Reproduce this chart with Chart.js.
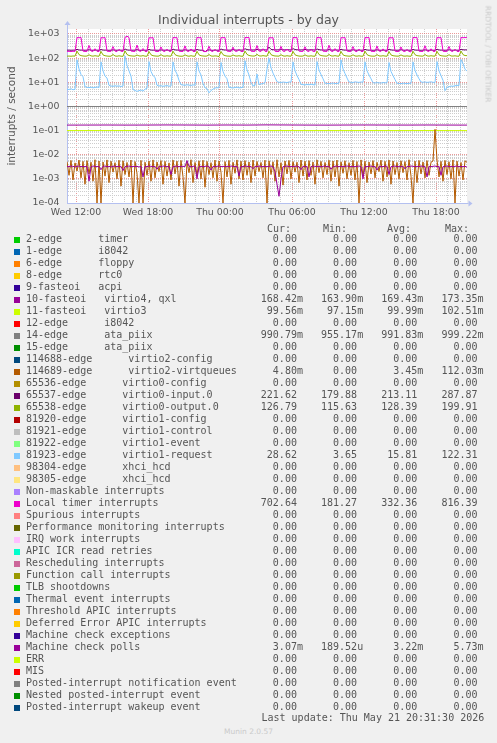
<!DOCTYPE html>
<html><head><meta charset="utf-8">
<script src="https://cdn.jsdelivr.net/npm/chart.js@4/dist/chart.umd.min.js"></script>
<style>
html,body{margin:0;padding:0;background:#f0f0f0;}
body{width:497px;height:743px;position:relative;overflow:hidden;}
#chart{position:absolute;left:0;top:0;}
.t{position:absolute;font-family:'DejaVu Sans Mono',monospace;font-size:10px;line-height:12px;white-space:pre;color:#555;}
.sw{position:absolute;width:6px;height:6px;}
#wm{position:absolute;left:487.5px;top:53.5px;transform:translate(-50%,-50%) rotate(90deg);font-family:'DejaVu Sans';font-size:7.5px;color:#cacaca;white-space:nowrap;}
#footer{position:absolute;left:0;width:497px;top:726px;text-align:center;font-family:'DejaVu Sans';font-size:7.5px;line-height:12px;color:#cacaca;}
</style></head><body>
<canvas id="chart" width="497" height="230"></canvas>
<div id="legend"></div>
<div id="wm">RRDTOOL / TOBI OETIKER</div>
<div id="footer">Munin 2.0.57</div>
<script>
// ---------- time axis (hours counted from Wed 00:00) ----------
const T_START = 11.25;          // Wed 11:15
const T_END = 44 + 35 / 60;     // Thu 20:35
const X_GRID_HOURS = [12,13,14,15,16,17,18,19,20,21,22,23,24,25,26,27,28,29,30,31,32,33,34,35,36,37,38,39,40,41,42,43,44];
const X_LABEL_HOURS = [12, 18, 24, 30, 36, 42];
const X_LABELS = ['Wed 12:00', 'Wed 18:00', 'Thu 00:00', 'Thu 06:00', 'Thu 12:00', 'Thu 18:00'];

// ---------- value axis ----------
const Y_MIN = 1e-4;
const Y_MAX = 1611;
const Y_DECADES = [1e-4, 1e-3, 1e-2, 1e-1, 1e0, 1e1, 1e2, 1e3];
const Y_LABELS = ['1e-04', '1e-03', '1e-02', '1e-01', '1e+00', '1e+01', '1e+02', '1e+03'];
const Y_MINOR_MULT = [2, 3, 4, 5, 6, 7, 8, 9];

// ---------- series (10-minute samples, Wed 11:15 .. Thu 20:35) ----------
const LOCAL_TIMER = [190,192,188,193,190,
712,698,720,196,189,191,335,198,190,245,191,188,
705,690,715,194,190,192,300,196,188,230,193,190,
725,816.39,710,197,191,190,345,199,192,250,190,189,
700,688,712,195,188,192,290,197,190,235,192,191,
715,702,708,196,190,189,320,195,191,240,190,188,
722,695,718,193,189,193,310,198,189,232,191,190,
708,700,714,197,191,190,285,196,192,228,190,187,
718,705,720,195,190,192,330,197,190,245,192,189,
702,692,710,194,188,190,305,195,191,238,190,188,
716,703,712,196,190,191,295,198,189,230,191,190,
724,698,716,195,191,190,340,196,190,248,192,189,
706,694,713,197,189,192,300,195,188,236,190,188,
712,700,718,193,190,190,315,197,191,242,191,190,
703,690,709,196,188,191,290,196,189,228,190,181.27,
720,706,715,195,190,190,325,198,190,244,192,189,
710,697,711,194,189,192,305,196,191,234,190,188,
715,700,712,702.64];

const VIRTIO0_INPUT = [214,216,213,215,214,
232,218,216,214,213,215,222,214,213,216,214,213,
228,217,215,214,212,214,220,215,213,217,214,212,
240,219,216,213,214,215,224,214,212,215,213,214,
230,216,215,214,213,212,219,215,214,216,213,212,
236,220,217,215,213,214,221,214,213,218,215,213,
229,217,214,213,179.88,214,220,213,212,216,214,213,
238,222,218,216,215,216,226,217,215,219,216,215,
245,226,221,219,218,220,232,221,219,224,220,218,
287.87,230,224,221,220,222,235,222,220,226,221,219,
248,228,222,220,219,221,230,221,219,224,220,218,
240,224,219,217,216,218,226,218,216,220,217,215,
233,219,216,214,213,215,222,215,213,217,214,213,
231,218,215,214,212,214,221,214,213,216,214,212,
235,219,216,214,213,215,223,215,213,217,214,213,
230,217,215,213,212,214,220,214,212,216,213,212,
234,219,216,214,213,215,222,215,213,217,214,213,
232,222,220,221.62];

const VIRTIO0_OUTPUT = [121,122,120,123,121,
195,140,127,123,121,122,138,124,121,126,122,120,
190,136,126,122,120,121,142,123,120,125,121,119,
199.91,142,128,124,122,121,135,124,122,127,121,120,
188,138,126,123,121,122,140,123,121,125,122,121,
194,141,127,122,120,121,137,124,120,126,121,120,
192,137,126,123,121,122,141,123,121,124,122,115.63,
189,139,127,122,121,120,136,124,122,126,121,120,
196,143,129,124,122,123,144,125,122,127,123,121,
193,140,128,123,122,121,139,124,121,126,122,121,
191,138,127,122,121,122,137,123,121,125,121,120,
195,141,128,124,122,121,142,124,122,127,122,121,
190,137,126,123,121,122,138,123,121,125,121,120,
194,140,127,122,121,121,140,124,122,126,122,120,
188,136,126,123,121,122,136,123,121,124,121,120,
193,139,127,124,122,121,141,124,121,126,122,121,
191,138,126,123,121,122,139,123,122,125,121,120,
196,140,128,126.79];

const VIRTIO1_REQUEST = [5.2,5.0,5.4,4.9,5.1,
85,36,21,17,6.5,6.2,6.0,6.3,5.9,6.1,6.4,6.0,
70,30,18,15,7.5,7.0,6.8,7.2,6.9,7.1,6.7,7.0,
122.31,50,30,18,5.0,4.6,4.2,4.5,4.8,4.3,5.2,5.6,
72,28,19,16,7.5,7.0,7.2,6.8,7.1,7.3,6.9,7.0,
70,32,22,12,8.0,7.7,7.5,7.9,7.6,7.4,7.8,7.6,
70,30,20,9,6.0,5.5,3.65,4.6,5.2,5.8,6.0,5.9,
66,28,18,14,6.2,6.0,5.8,6.1,6.3,5.9,6.0,6.2,
78,33,20,10,7.0,7.5,22,8.0,8.5,9.0,9.5,35,
100,40,24,16,10.5,10,9.8,10.2,10.0,9.7,10.3,10.1,
70,30,19,13,8.2,8.0,7.8,8.1,7.9,8.3,8.0,7.7,
72,32,21,14,9.2,9.0,8.8,9.1,9.3,8.9,9.0,9.2,
85,36,23,15,10.2,10.0,9.8,10.4,10.1,9.9,10.3,10.0,
70,30,20,14,9.6,9.4,9.7,9.5,9.3,9.8,9.5,9.6,
66,28,19,13,9.1,9.0,8.8,9.2,9.0,8.9,9.1,9.0,
70,31,20,14,10.2,10.0,10.3,9.9,10.1,10.4,10.0,9.8,
72,30,19,12,4.5,6.2,6.5,7.0,6.8,7.2,7.5,7.3,
88,60,35,28.62];

// values in milli-interrupts/s (Munin "m" suffix)
const VIRTIO2_VIRTQUEUES_M = [5.2,1.4,5.8,0.9,4.6,2.1,6.0,1.1,5.3,0.6,
5.7,1.6,4.9,0.8,6.2,0,5.5,0,5.0,1.3,
6.1,0.7,5.4,1.9,4.7,1.0,5.9,0.5,5.6,1.5,
4.8,1.2,6.0,0,5.2,1.7,0,5.8,0,4.9,
1.4,5.5,0.8,6.1,1.1,5.0,2.0,5.7,0.6,5.3,
1.3,4.6,0.9,6.0,1.6,5.4,0.5,5.8,1.2,0,
5.1,1.8,6.2,0.7,4.8,1.4,5.6,1.0,5.9,0.45,
5.3,1.5,4.7,1.1,6.0,0.8,5.5,1.9,0,5.2,
1.2,5.8,0.6,4.9,1.7,6.1,1.0,5.4,0.9,5.7,
1.4,5.0,0.7,6.0,1.3,5.3,2.0,4.8,1.1,5.9,
0,5.6,1.5,5.1,0.8,6.2,1.2,4.7,0.55,5.5,
1.6,5.8,1.0,5.2,1.9,4.9,0.7,6.0,1.3,5.4,
0.9,5.7,1.4,5.0,0.6,6.1,1.8,5.3,1.1,4.8,
1.5,5.9,0.8,5.5,1.2,6.0,0.5,5.1,1.7,5.6,
1.0,4.7,1.4,5.8,0.9,5.2,0,6.1,1.3,5.4,
0.7,5.0,1.6,5.7,1.1,4.9,2.0,5.9,0.8,5.3,
1.2,6.0,0.6,5.5,1.5,4.8,1.0,5.6,1.8,5.2,
0.9,6.2,1.3,0,5.4,0.7,5.8,1.6,5.0,1.1,
5.7,1.4,4.9,5.5,112.03,6.0,1.2,5.3,0.8,5.8,
1.5,5.1,1.0,6.1,0,5.4,1.3,4.8,0.9,5.6,
4.80];

const MACHINE_CHECK_POLLS_M = [3.3,3.2,3.4,3.3,3.1,3.3,3.4,3.2,3.3,3.2,
3.3,0.8,3.2,3.4,3.3,3.2,3.3,2.4,3.3,3.4,
3.2,3.3,3.1,3.3,3.4,3.2,3.3,3.3,2.2,3.2,
3.3,3.4,3.2,3.3,3.2,3.3,3.1,3.3,1.2,3.3,
3.2,3.4,3.3,3.2,3.3,2.5,3.3,3.2,3.4,3.3,
3.2,3.3,1.5,3.2,3.3,3.4,3.2,3.3,3.3,3.2,
5.73,3.3,3.2,3.3,3.4,1.0,3.2,3.3,3.2,3.3,
3.4,3.2,2.3,3.3,3.2,3.3,3.4,3.2,3.3,3.2,
3.3,3.2,3.4,3.3,3.2,3.3,1.3,3.3,3.2,3.4,
3.3,3.2,3.3,2.6,3.3,3.2,3.4,3.3,3.2,3.3,
3.2,3.3,3.4,3.2,2.0,0.6,0.18952,1.0,3.2,3.3,
3.4,3.2,3.3,3.2,3.3,3.4,3.2,2.4,3.3,3.2,
3.3,1.2,3.2,3.4,3.3,3.2,3.3,3.2,3.3,3.4,
3.2,3.3,2.5,3.2,3.3,3.4,3.2,3.3,3.2,3.3,
3.4,3.3,3.2,3.3,3.2,3.3,3.4,3.2,1.0,3.3,
3.2,3.3,3.4,3.2,3.3,2.3,3.2,3.3,3.2,3.4,
3.3,1.5,3.2,3.3,3.4,3.2,3.3,3.2,3.3,2.6,
3.3,3.2,3.4,3.3,3.2,3.3,3.2,3.4,3.3,3.2,
1.2,3.3,3.2,3.3,3.4,3.2,3.3,1.4,3.2,3.3,
3.4,3.2,3.3,3.2,3.3,3.4,3.2,3.3,3.2,3.3,
3.07];

// near-constant series (100-minute samples), milli-interrupts/s
const FASTEOI10_M = [168.5,169.2,170.1,168.8,169.6,171.0,169.9,168.4,170.3,169.1,172.0,170.5,169.0,168.2,169.8,170.6,169.4,168.9,170.2,169.3,168.42];
const FASTEOI11_M = [99.9,100.1,99.8,100.2,99.9,100.0,100.3,99.7,100.1,99.9,100.0,100.2,99.8,100.0,99.9,100.1,100.0,99.8,100.1,99.9,99.56];
const EDGE14_M = [992,995,990,993,996,989,991,994,992,990,993,995,991,989,992,994,990,993,991,992,990.79];

// ---------- legend table ----------
const LEGEND_LABELS = [
'2-edge      timer','1-edge      i8042','6-edge      floppy','8-edge      rtc0','9-fasteoi   acpi',
'10-fasteoi   virtio4, qxl','11-fasteoi   virtio3','12-edge      i8042','14-edge      ata_piix','15-edge      ata_piix',
'114688-edge      virtio2-config','114689-edge      virtio2-virtqueues','65536-edge      virtio0-config','65537-edge      virtio0-input.0','65538-edge      virtio0-output.0',
'81920-edge      virtio1-config','81921-edge      virtio1-control','81922-edge      virtio1-event','81923-edge      virtio1-request','98304-edge      xhci_hcd',
'98305-edge      xhci_hcd','Non-maskable interrupts','Local timer interrupts','Spurious interrupts','Performance monitoring interrupts',
'IRQ work interrupts','APIC ICR read retries','Rescheduling interrupts','Function call interrupts','TLB shootdowns',
'Thermal event interrupts','Threshold APIC interrupts','Deferred Error APIC interrupts','Machine check exceptions','Machine check polls',
'ERR','MIS','Posted-interrupt notification event','Nested posted-interrupt event','Posted-interrupt wakeup event'];
const LEGEND_COLORS = [
'#00CC00','#0066B3','#FF8000','#FFCC00','#330099','#990099','#CCFF00','#FF0000','#808080','#008F00',
'#00487D','#B35A00','#B38F00','#6B006B','#8FB300','#B30000','#BEBEBE','#80FF80','#80C9FF','#FFC080',
'#FFE680','#AA80FF','#EE00CC','#FF8080','#666600','#FFBFFF','#00FFCC','#CC6699','#999900','#00CC00',
'#0066B3','#FF8000','#FFCC00','#330099','#990099','#CCFF00','#FF0000','#808080','#008F00','#00487D'];
const Z = '0.00';
const CUR = [Z,Z,Z,Z,Z,'168.42m','99.56m',Z,'990.79m',Z, Z,'4.80m',Z,'221.62','126.79',Z,Z,Z,'28.62',Z, Z,Z,'702.64',Z,Z,Z,Z,Z,Z,Z, Z,Z,Z,Z,'3.07m',Z,Z,Z,Z,Z];
const MIN = [Z,Z,Z,Z,Z,'163.90m','97.15m',Z,'955.17m',Z, Z,Z,Z,'179.88','115.63',Z,Z,Z,'3.65',Z, Z,Z,'181.27',Z,Z,Z,Z,Z,Z,Z, Z,Z,Z,Z,'189.52u',Z,Z,Z,Z,Z];
const AVG = [Z,Z,Z,Z,Z,'169.43m','99.99m',Z,'991.83m',Z, Z,'3.45m',Z,'213.11','128.39',Z,Z,Z,'15.81',Z, Z,Z,'332.36',Z,Z,Z,Z,Z,Z,Z, Z,Z,Z,Z,'3.22m',Z,Z,Z,Z,Z];
const MAX = [Z,Z,Z,Z,Z,'173.35m','102.51m',Z,'999.22m',Z, Z,'112.03m',Z,'287.87','199.91',Z,Z,Z,'122.31',Z, Z,Z,'816.39',Z,Z,Z,Z,Z,Z,Z, Z,Z,Z,Z,'5.73m',Z,Z,Z,Z,Z];
const COL_HEADERS = ['Cur:', 'Min:', 'Avg:', 'Max:'];
const LAST_UPDATE = 'Last update: Thu May 21 20:31:30 2026';

// ---------- styles ----------
const FONT_COLOR = '#555555';
const AXIS_COLOR = '#b4c0f0';
const MAJOR_GRID = 'rgba(225,110,110,0.7)';
const MINOR_GRID = '#cdcdcd';

function toPoints(arr, scale) {
  const n = arr.length - 1;
  return arr.map((v, i) => ({ x: T_START + i * (T_END - T_START) / n, y: Math.max(v * scale, Y_MIN) }));
}
const SERIES = [
  { label: '10-fasteoi virtio4, qxl', values: FASTEOI10_M, scale: 1e-3, color: '#990099' },
  { label: '11-fasteoi virtio3', values: FASTEOI11_M, scale: 1e-3, color: '#CCFF00' },
  { label: '14-edge ata_piix', values: EDGE14_M, scale: 1e-3, color: '#808080' },
  { label: '114689-edge virtio2-virtqueues', values: VIRTIO2_VIRTQUEUES_M, scale: 1e-3, color: '#B35A00' },
  { label: '65537-edge virtio0-input.0', values: VIRTIO0_INPUT, scale: 1, color: '#6B006B' },
  { label: '65538-edge virtio0-output.0', values: VIRTIO0_OUTPUT, scale: 1, color: '#8FB300' },
  { label: '81923-edge virtio1-request', values: VIRTIO1_REQUEST, scale: 1, color: '#80C9FF' },
  { label: 'Local timer interrupts', values: LOCAL_TIMER, scale: 1, color: '#EE00CC' },
  { label: 'Machine check polls', values: MACHINE_CHECK_POLLS_M, scale: 1e-3, color: '#990099' }
];

const yTickValues = [];
Y_DECADES.forEach((d, j) => {
  yTickValues.push(d);
  if (j < Y_DECADES.length - 1) Y_MINOR_MULT.forEach(m => yTickValues.push(d * m));
});
function decadeIndex(v) {
  const l = Math.log10(v);
  if (Math.abs(l - Math.round(l)) > 1e-6) return -1;
  return Y_DECADES.findIndex(d => Math.abs(Math.log10(d) - l) < 1e-6);
}

const rrdPlugin = {
  id: 'rrd',
  beforeDraw(chart) {
    const { ctx, chartArea: a } = chart;
    ctx.save();
    ctx.fillStyle = '#ffffff';
    ctx.fillRect(a.left, a.top, a.right - a.left, a.bottom - a.top);
    ctx.restore();
  },
  afterDraw(chart) {
    const { ctx, chartArea: a } = chart;
    ctx.save();
    ctx.strokeStyle = AXIS_COLOR; ctx.fillStyle = AXIS_COLOR; ctx.lineWidth = 1;
    const x0 = Math.round(a.left) + 0.5, y0 = Math.round(a.bottom) + 0.5;
    ctx.beginPath(); ctx.moveTo(x0, a.top); ctx.lineTo(x0, a.top - 4); ctx.stroke();
    ctx.beginPath(); ctx.moveTo(x0 - 3, a.top - 4); ctx.lineTo(x0 + 3, a.top - 4); ctx.lineTo(x0, a.top - 8); ctx.closePath(); ctx.fill();
    ctx.beginPath(); ctx.moveTo(a.right, y0); ctx.lineTo(a.right + 1.5, y0); ctx.stroke();
    ctx.beginPath(); ctx.moveTo(a.right + 1.5, y0 - 3); ctx.lineTo(a.right + 1.5, y0 + 3); ctx.lineTo(a.right + 5.5, y0); ctx.closePath(); ctx.fill();
    ctx.restore();
  }
};

Chart.defaults.font.family = "'DejaVu Sans'";
new Chart(document.getElementById('chart'), {
  type: 'line',
  data: {
    datasets: SERIES.map((s, idx) => ({
      label: s.label,
      data: toPoints(s.values, s.scale),
      borderColor: s.color,
      backgroundColor: s.color,
      borderWidth: 1,
      pointRadius: 0,
      fill: false,
      tension: 0,
      order: SERIES.length - idx
    }))
  },
  options: {
    responsive: false,
    animation: false,
    events: [],
    layout: { padding: 0 },
    plugins: {
      legend: { display: false },
      tooltip: { enabled: false },
      title: {
        display: true, text: 'Individual interrupts - by day', color: FONT_COLOR,
        font: { family: "'DejaVu Sans'", size: 12.5, weight: 'normal', lineHeight: 1.2 },
        padding: { top: 13.1, bottom: 0.9 }
      }
    },
    scales: {
      x: {
        type: 'linear', min: T_START, max: T_END,
        afterBuildTicks: s => { s.ticks = X_GRID_HOURS.map(v => ({ value: v })); },
        afterFit: s => { s.height = 27; },
        ticks: {
          autoSkip: false, maxRotation: 0, padding: 4, color: FONT_COLOR,
          font: { size: 9.4 },
          callback: v => { const j = X_LABEL_HOURS.indexOf(v); return j >= 0 ? X_LABELS[j] : ''; }
        },
        grid: {
          drawTicks: false, lineWidth: 1,
          color: c => (c.tick && c.tick.value % 6 === 0) ? MAJOR_GRID : MINOR_GRID
        },
        border: { display: true, color: AXIS_COLOR, width: 1, dash: [1, 1] }
      },
      y: {
        type: 'logarithmic', position: 'left', min: Y_MIN, max: Y_MAX,
        afterBuildTicks: s => { s.ticks = yTickValues.map(v => ({ value: v })); },
        afterFit: s => { s.width = 67; },
        ticks: {
          autoSkip: false, padding: 7.5, color: FONT_COLOR, font: { size: 9.4 },
          callback: v => { const j = decadeIndex(v); return j >= 0 ? Y_LABELS[j] : ''; }
        },
        grid: {
          drawTicks: false, lineWidth: 1,
          color: c => (c.tick && decadeIndex(c.tick.value) >= 0) ? MAJOR_GRID : MINOR_GRID
        },
        border: { display: true, color: AXIS_COLOR, width: 1, dash: [1, 1] },
        title: {
          display: true, text: 'interrupts / second', color: FONT_COLOR,
          font: { size: 10.5, lineHeight: 1.2 }, padding: { top: 5.6, bottom: 0 }
        }
      },
      yr: {
        type: 'linear', position: 'right', display: true,
        afterFit: s => { s.width = 30; },
        ticks: { display: false }, grid: { display: false }, border: { display: false }
      }
    }
  },
  plugins: [rrdPlugin]
});

// ---------- legend rendering ----------
const legend = document.getElementById('legend');
function field(s) { return /[a-zA-Z]$/.test(s) ? s.padStart(7) : (s + ' ').padStart(7); }
const HEADER_X = [267, 323, 387, 445];
COL_HEADERS.forEach((h, j) => {
  const d = document.createElement('div'); d.className = 't';
  d.style.left = HEADER_X[j] + 'px'; d.style.top = '223px'; d.textContent = h;
  legend.appendChild(d);
});
LEGEND_LABELS.forEach((lab, k) => {
  const top = 233 + 12 * k;
  const sw = document.createElement('div'); sw.className = 'sw';
  sw.style.left = '14px'; sw.style.top = (top + 4) + 'px'; sw.style.background = LEGEND_COLORS[k];
  const t = document.createElement('div'); t.className = 't';
  t.style.left = '26px'; t.style.top = top + 'px';
  t.textContent = lab.padEnd(39) + field(CUR[k]) + '   ' + field(MIN[k]) + '   ' + field(AVG[k]) + '   ' + field(MAX[k]);
  legend.appendChild(sw); legend.appendChild(t);
});
const lu = document.createElement('div'); lu.className = 't';
lu.style.left = '261.5px'; lu.style.top = '712px'; lu.textContent = LAST_UPDATE;
legend.appendChild(lu);
</script>
</body></html>
